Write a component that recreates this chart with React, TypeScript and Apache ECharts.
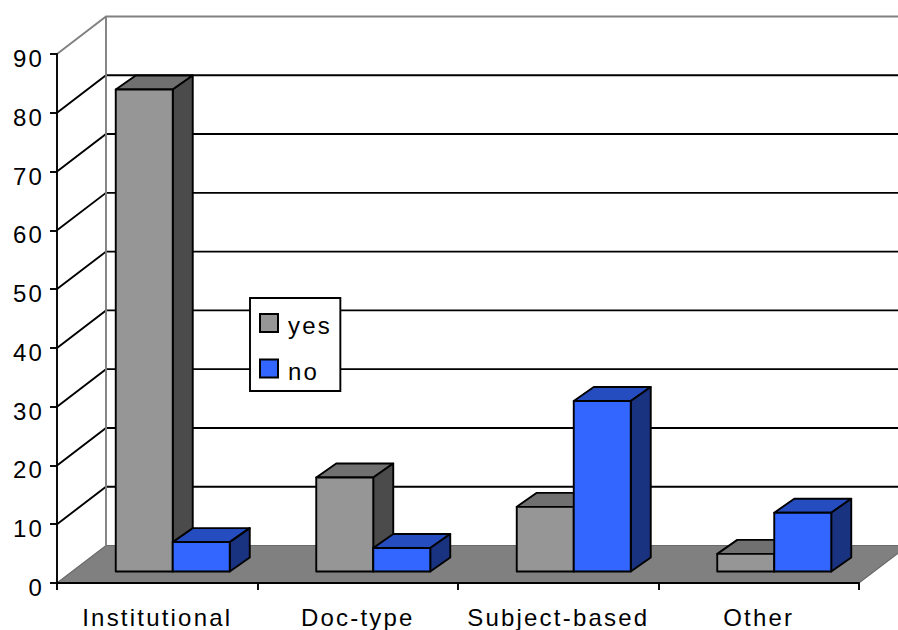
import React, { useEffect, useRef } from "react";
import * as echarts from "echarts";

const categories = ["Institutional", "Doc-type", "Subject-based", "Other"];
const yesValues = [82, 16, 11, 3];
const noValues = [5, 4, 29, 10];
const yTicks = [0, 10, 20, 30, 40, 50, 60, 70, 80, 90];

const WALL_DX = 49;
const WALL_DY = -37.5;
const BAR_SHIFT_X = 15.5;
const BAR_SHIFT_Y = -11.5;
const BAR_W = 57;
const BAR_DX = 20;
const BAR_DY = -14;
const LINE = 1.9;

const FONT = "'Liberation Sans', Arial, sans-serif";

function bar(side: number, front: string, top: string, right: string) {
  return (params: any, api: any) => {
    const idx = api.value(0);
    const [cx, y0] = api.coord([idx, 0]);
    const [, y1] = api.coord([idx, api.value(1)]);
    const x0 = cx + BAR_SHIFT_X + (side === 0 ? -BAR_W : 0);
    const x1 = x0 + BAR_W;
    const b = y0 + BAR_SHIFT_Y;
    const t = y1 + BAR_SHIFT_Y;
    const stroke = { stroke: "#000", lineWidth: LINE, lineJoin: "round" };
    return {
      type: "group",
      children: [
        {
          type: "polygon",
          shape: { points: [[x0, t], [x1, t], [x1 + BAR_DX, t + BAR_DY], [x0 + BAR_DX, t + BAR_DY]] },
          style: { fill: top, ...stroke },
        },
        {
          type: "polygon",
          shape: { points: [[x1, t], [x1 + BAR_DX, t + BAR_DY], [x1 + BAR_DX, b + BAR_DY], [x1, b]] },
          style: { fill: right, ...stroke },
        },
        {
          type: "polygon",
          shape: { points: [[x0, t], [x1, t], [x1, b], [x0, b]] },
          style: { fill: front, ...stroke },
        },
      ],
    };
  };
}

function wall(params: any, api: any) {
  const v = api.value(1);
  const sys = params.coordSys;
  const left = sys.x;
  const right = sys.x + sys.width;
  const [, y] = api.coord([0, v]);
  const children: any[] = [];
  if (v === 0) {
    children.push({
      type: "polygon",
      shape: {
        points: [
          [left, y],
          [left + WALL_DX, y + WALL_DY],
          [right + WALL_DX, y + WALL_DY],
          [right, y],
        ],
      },
      style: { fill: "#808080", stroke: "#6a6a6a", lineWidth: 1.2 },
    });
    return { type: "group", children };
  }
  const color = v === 90 ? "#808080" : "#000";
  children.push({
    type: "polyline",
    shape: {
      points: [
        [left, y],
        [left + WALL_DX, y + WALL_DY],
        [right + WALL_DX, y + WALL_DY],
      ],
    },
    style: { fill: "none", stroke: color, lineWidth: LINE },
  });
  if (v === 90) {
    const [, y0] = api.coord([0, 0]);
    children.push({
      type: "line",
      shape: { x1: left + WALL_DX, y1: y + WALL_DY, x2: left + WALL_DX, y2: y0 + WALL_DY },
      style: { stroke: "#808080", lineWidth: LINE },
    });
  }
  return { type: "group", children };
}

export default function App() {
  const ref = useRef<HTMLDivElement>(null);
  useEffect(() => {
    const chart = echarts.init(ref.current!, undefined, { renderer: "svg" });
    chart.setOption({
      animation: false,
      backgroundColor: "#fff",
      grid: { left: 57, top: 54, width: 802, height: 529 },
      xAxis: {
        type: "category",
        data: categories,
        z: 3,
        axisLine: { lineStyle: { color: "#000", width: LINE } },
        axisTick: { show: true, length: 7, lineStyle: { color: "#000", width: LINE } },
        axisLabel: { interval: 0, color: "#000", fontFamily: FONT, fontSize: 24, margin: 22 },
      },
      yAxis: {
        type: "value",
        min: 0,
        max: 90,
        interval: 10,
        z: 3,
        splitLine: { show: false },
        axisLine: { show: true, lineStyle: { color: "#000", width: LINE } },
        axisTick: { show: true, length: 7, lineStyle: { color: "#000", width: LINE } },
        axisLabel: {
          formatter: "{t|{value}}",
          margin: 13,
          rich: { t: { color: "#000", fontFamily: FONT, fontSize: 24, padding: [9, 0, 0, 0] } },
        },
      },
      legend: {
        data: ["yes", "no"],
        orient: "vertical",
        left: 250,
        top: 298,
        padding: [15, 15, 8, 9],
        itemWidth: 18,
        itemHeight: 18,
        itemGap: 21,
        icon: "rect",
        backgroundColor: "#fff",
        borderColor: "#000",
        borderWidth: LINE,
        formatter: "{t|{name}}",
        textStyle: {
          rich: { t: { color: "#000", fontFamily: FONT, fontSize: 24, padding: [5, 0, 0, 5] } },
        },
      },
      series: [
        {
          type: "custom",
          name: "walls",
          renderItem: wall,
          data: yTicks.map((v) => [0, v]),
          encode: { x: 0, y: 1 },
          silent: true,
          z: 1,
        },
        {
          type: "custom",
          name: "yes",
          renderItem: bar(0, "#969696", "#707070", "#4b4b4b"),
          data: yesValues.map((v, i) => [i, v]),
          encode: { x: 0, y: 1 },
          itemStyle: { color: "#969696", borderColor: "#000", borderWidth: LINE },
          z: 2,
        },
        {
          type: "custom",
          name: "no",
          renderItem: bar(1, "#3366ff", "#264dbf", "#1a3380"),
          data: noValues.map((v, i) => [i, v]),
          encode: { x: 0, y: 1 },
          itemStyle: { color: "#3366ff", borderColor: "#000", borderWidth: LINE },
          z: 2,
        },
      ],
    });
    return () => chart.dispose();
  }, []);
  return (
    <div
      ref={ref}
      style={{ position: "absolute", left: 0, top: 0, width: 898, height: 630, letterSpacing: "2.2px" }}
    />
  );
}
